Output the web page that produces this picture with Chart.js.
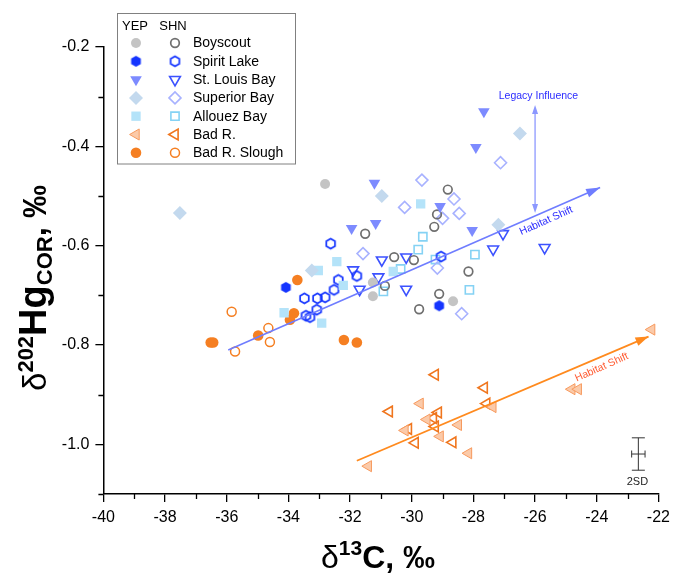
<!DOCTYPE html>
<html>
<head>
<meta charset="utf-8">
<script src="https://cdn.jsdelivr.net/npm/chart.js"></script>
<style>
    html, body { margin: 0; padding: 0; background: #fff; }
</style>
</head>
<body>
<canvas id="chart" width="673" height="577"></canvas>
<script>
"use strict"

// [δ13C, δ202Hg_COR] per site, YEP = filled, SHN = open
const boyscoutYEP = [[-32.81, -0.476], [-31.26, -0.674], [-31.26, -0.702], [-28.66, -0.712]];
const boyscoutSHN = [[-31.51, -0.576], [-30.57, -0.623], [-29.93, -0.629], [-30.87, -0.681], [-29.11, -0.697],
    [-29.76, -0.728], [-28.16, -0.652], [-28.83, -0.487], [-29.18, -0.537], [-29.27, -0.562]];
const spiritYEP = [[-34.08, -0.684], [-29.11, -0.721]];
const spiritSHN = [[-32.63, -0.596], [-32.38, -0.669], [-32.52, -0.689], [-32.81, -0.704], [-33.06, -0.706],
    [-33.48, -0.706], [-33.08, -0.729], [-33.43, -0.741], [-33.30, -0.744], [-31.78, -0.661], [-29.05, -0.622]];
const stLouisYEP = [[-31.21, -0.474], [-31.95, -0.565], [-31.17, -0.555], [-27.66, -0.330], [-27.92, -0.402],
    [-29.08, -0.521], [-28.04, -0.569]];
const stLouisSHN = [[-31.90, -0.649], [-30.97, -0.629], [-30.18, -0.623], [-31.08, -0.663], [-31.69, -0.688],
    [-30.18, -0.688], [-27.04, -0.576], [-27.36, -0.607], [-25.69, -0.604]];
const superiorYEP = [[-37.52, -0.534], [-26.49, -0.374], [-30.97, -0.500], [-27.19, -0.558], [-33.24, -0.650]];
const superiorSHN = [[-27.12, -0.433], [-29.67, -0.468], [-30.23, -0.523], [-28.63, -0.506], [-28.46, -0.535],
    [-29.00, -0.545], [-31.58, -0.616], [-29.17, -0.645], [-28.38, -0.737]];
const allouezYEP = [[-29.71, -0.516], [-32.43, -0.632], [-30.60, -0.652], [-32.22, -0.680], [-34.14, -0.735],
    [-32.92, -0.756], [-33.03, -0.650]];
const allouezSHN = [[-29.64, -0.582], [-29.79, -0.608], [-30.36, -0.647], [-30.92, -0.692], [-29.23, -0.628],
    [-27.95, -0.618], [-28.13, -0.689]];
const badRYEP = [[-31.41, -1.044], [-29.73, -0.918], [-29.51, -0.950], [-30.22, -0.972], [-29.08, -0.984],
    [-28.49, -0.961], [-28.16, -1.018], [-27.37, -0.925], [-22.22, -0.769], [-24.81, -0.889], [-24.60, -0.889]];
const badRSHN = [[-29.24, -0.860], [-27.65, -0.886], [-30.73, -0.934], [-27.57, -0.918], [-29.14, -0.936],
    [-29.30, -0.947], [-30.11, -0.969], [-29.24, -0.964], [-29.89, -0.997], [-28.67, -0.996]];
const sloughYEP = [[-33.71, -0.669], [-33.82, -0.736], [-33.95, -0.749], [-34.98, -0.781], [-36.52, -0.795],
    [-36.44, -0.795], [-32.20, -0.790], [-31.78, -0.795]];
const sloughSHN = [[-35.84, -0.733], [-34.65, -0.766], [-34.60, -0.794], [-35.73, -0.813]];

const siteNames = ["Boyscout", "Spirit Lake", "St. Louis Bay", "Superior Bay", "Allouez Bay", "Bad R.", "Bad R. Slough"];

// Axis ticks
const xTicks = [-40, -38, -36, -34, -32, -30, -28, -26, -24, -22];
const xMinor = [-39, -37, -35, -33, -31, -29, -27, -25, -23];
const yTicks = [-1.0, -0.8, -0.6, -0.4, -0.2];
const yMinor = [-1.1, -0.9, -0.7, -0.5, -0.3];

// Trend arrows / error bar, in data units
const blueShift = [[-35.95, -0.810], [-23.89, -0.483]];
const orangeShift = [[-31.78, -1.033], [-22.32, -0.783]];
const legacyArrow = [[-26.0, -0.317], [-26.0, -0.534]];
const twoSD = { x: -22.65, y: -1.0195, dx: 0.217, dy: 0.0326 };

const FONT = '"Liberation Sans", Arial, sans-serif';

// Hexagon marker drawn to a small canvas
function HexMarker(fill, stroke, r, lw) {
    const size = 15;
    let c = document.createElement("canvas");
    c.width = size;
    c.height = size;
    let g = c.getContext("2d");
    g.beginPath();
    for (let i = 0; i < 6; i++) {
        let a = Math.PI / 3 * i - Math.PI / 2;
        let px = size / 2 + r * Math.cos(a);
        let py = size / 2 + r * Math.sin(a);
        if (i === 0) g.moveTo(px, py); else g.lineTo(px, py);
    }
    g.closePath();
    if (fill) { g.fillStyle = fill; g.fill(); }
    if (stroke) { g.strokeStyle = stroke; g.lineWidth = lw; g.stroke(); }
    return c;
}

const NONE = "rgba(0,0,0,0)";

const markerStyles = [
    // [YEP, SHN] for each site
    [{ pointStyle: "circle", radius: 5, fill: "#c4c4c4", stroke: "#c4c4c4", width: 0 },
     { pointStyle: "circle", radius: 4.3, fill: NONE, stroke: "#6f6f6f", width: 1.7 }],
    [{ pointStyle: HexMarker("#1434ff", null, 5.6, 0), radius: 5, fill: "#1434ff", stroke: "#1434ff", width: 0 },
     { pointStyle: HexMarker(null, "#1434ff", 5.0, 1.7), radius: 5, fill: NONE, stroke: "#1434ff", width: 0 }],
    [{ pointStyle: "triangle", rotation: 180, radius: 6.7, fill: "#7d8bff", stroke: "#7d8bff", width: 0 },
     { pointStyle: "triangle", rotation: 180, radius: 6.2, fill: NONE, stroke: "#3c52ff", width: 1.6 }],
    [{ pointStyle: "rectRot", radius: 7, fill: "#c3d9ee", stroke: "#c3d9ee", width: 0 },
     { pointStyle: "rectRot", radius: 6, fill: NONE, stroke: "#a8b2ff", width: 1.6 }],
    [{ pointStyle: "rect", radius: 6.6, fill: "#b4e3f9", stroke: "#b4e3f9", width: 0 },
     { pointStyle: "rect", radius: 5.8, fill: NONE, stroke: "#85d2f4", width: 1.6 }],
    [{ pointStyle: "triangle", rotation: 270, radius: 6.4, fill: "#fbcaa9", stroke: "#f79a5e", width: 1 },
     { pointStyle: "triangle", rotation: 270, radius: 6.2, fill: NONE, stroke: "#f0761e", width: 1.6 }],
    [{ pointStyle: "circle", radius: 5.3, fill: "#f57f22", stroke: "#f57f22", width: 0 },
     { pointStyle: "circle", radius: 4.5, fill: NONE, stroke: "#f57f22", width: 1.5 }]
];

const siteData = [
    [boyscoutYEP, boyscoutSHN],
    [spiritYEP, spiritSHN],
    [stLouisYEP, stLouisSHN],
    [superiorYEP, superiorSHN],
    [allouezYEP, allouezSHN],
    [badRYEP, badRSHN],
    [sloughYEP, sloughSHN]
];

function MakeDataset(label, points, st) {
    return {
        label: label,
        data: points.map(p => ({ x: p[0], y: p[1] })),
        pointStyle: st.pointStyle,
        pointRotation: st.rotation || 0,
        pointRadius: st.radius,
        pointHoverRadius: st.radius,
        pointBackgroundColor: st.fill,
        pointBorderColor: st.stroke,
        pointBorderWidth: st.width,
        showLine: false
    };
}

let datasets = [];
for (let k = 0; k < 2; k++) {
    for (let i = 0; i < siteNames.length; i++) {
        datasets.push(MakeDataset(siteNames[i] + (k ? " SHN" : " YEP"), siteData[i][k], markerStyles[i][k]));
    }
}

function ArrowHead(ctx, x0, y0, x1, y1, len, half) {
    let a = Math.atan2(y1 - y0, x1 - x0);
    ctx.beginPath();
    ctx.moveTo(x1, y1);
    ctx.lineTo(x1 - len * Math.cos(a) + half * Math.sin(a), y1 - len * Math.sin(a) - half * Math.cos(a));
    ctx.lineTo(x1 - len * Math.cos(a) - half * Math.sin(a), y1 - len * Math.sin(a) + half * Math.cos(a));
    ctx.closePath();
    ctx.fill();
}

function RotText(ctx, text, x, y, deg, font, color) {
    ctx.save();
    ctx.translate(x, y);
    ctx.rotate(deg * Math.PI / 180);
    ctx.font = font;
    ctx.fillStyle = color;
    ctx.textAlign = "center";
    ctx.textBaseline = "middle";
    ctx.fillText(text, 0, 0);
    ctx.restore();
}

const minorTicks = {
    id: "minorTicks",
    afterDraw(chart) {
        const { ctx, chartArea: area, scales: { x, y } } = chart;
        ctx.save();
        ctx.strokeStyle = "#000";
        ctx.lineWidth = 1.3;
        ctx.beginPath();
        xMinor.forEach(v => {
            let px = Math.round(x.getPixelForValue(v)) + 0.5;
            ctx.moveTo(px, area.bottom);
            ctx.lineTo(px, area.bottom + 5);
        });
        yMinor.forEach(v => {
            let py = Math.round(y.getPixelForValue(v)) + 0.5;
            ctx.moveTo(area.left, py);
            ctx.lineTo(area.left - 5, py);
        });
        ctx.stroke();
        ctx.restore();
    }
};

const annotations = {
    id: "annotations",
    afterDatasetsDraw(chart) {
        const { ctx, scales: { x, y } } = chart;
        const P = p => [x.getPixelForValue(p[0]), y.getPixelForValue(p[1])];
        ctx.save();

        // blue habitat shift
        let b0 = P(blueShift[0]), b1 = P(blueShift[1]);
        ctx.strokeStyle = "#6f7dff";
        ctx.fillStyle = "#6f7dff";
        ctx.lineWidth = 1.6;
        ctx.beginPath();
        ctx.moveTo(b0[0], b0[1]);
        ctx.lineTo(b1[0], b1[1]);
        ctx.stroke();
        ArrowHead(ctx, b0[0], b0[1], b1[0], b1[1], 14, 4.5);

        // legacy influence double arrow
        let l0 = P(legacyArrow[0]), l1 = P(legacyArrow[1]);
        ctx.strokeStyle = "#8c98ff";
        ctx.fillStyle = "#8c98ff";
        ctx.lineWidth = 1.3;
        ctx.beginPath();
        ctx.moveTo(l0[0], l0[1] + 6);
        ctx.lineTo(l1[0], l1[1] - 6);
        ctx.stroke();
        ArrowHead(ctx, l1[0], l1[1], l0[0], l0[1], 9, 3);
        ArrowHead(ctx, l0[0], l0[1], l1[0], l1[1], 9, 3);

        // orange habitat shift
        let o0 = P(orangeShift[0]), o1 = P(orangeShift[1]);
        ctx.strokeStyle = "#ff8a1e";
        ctx.fillStyle = "#ff8a1e";
        ctx.lineWidth = 1.8;
        ctx.beginPath();
        ctx.moveTo(o0[0], o0[1]);
        ctx.lineTo(o1[0], o1[1]);
        ctx.stroke();
        ArrowHead(ctx, o0[0], o0[1], o1[0], o1[1], 13, 4.5);

        // labels
        let t = P([-25.89, -0.299]);
        RotText(ctx, "Legacy Influence", t[0], t[1], 0, "10.5px " + FONT, "#2b2bff");
        t = P([-25.64, -0.550]);
        RotText(ctx, "Habitat Shift", t[0], t[1], -24, "10.5px " + FONT, "#2b2bff");
        t = P([-23.84, -0.845]);
        RotText(ctx, "Habitat Shift", t[0], t[1], -24, "10.5px " + FONT, "#ff5c33");

        // 2SD error bar
        let c = P([twoSD.x, twoSD.y]);
        let top = y.getPixelForValue(twoSD.y + twoSD.dy);
        let bot = y.getPixelForValue(twoSD.y - twoSD.dy);
        let lft = x.getPixelForValue(twoSD.x - twoSD.dx);
        let rgt = x.getPixelForValue(twoSD.x + twoSD.dx);
        ctx.strokeStyle = "#333";
        ctx.lineWidth = 1;
        ctx.beginPath();
        ctx.moveTo(c[0], top); ctx.lineTo(c[0], bot);
        ctx.moveTo(c[0] - 6.5, top); ctx.lineTo(c[0] + 6.5, top);
        ctx.moveTo(c[0] - 6.5, bot); ctx.lineTo(c[0] + 6.5, bot);
        ctx.moveTo(lft, c[1]); ctx.lineTo(rgt, c[1]);
        ctx.moveTo(lft, c[1] - 3.5); ctx.lineTo(lft, c[1] + 3.5);
        ctx.moveTo(rgt, c[1] - 3.5); ctx.lineTo(rgt, c[1] + 3.5);
        ctx.stroke();
        t = P([-22.68, -1.075]);
        RotText(ctx, "2SD", t[0], t[1], 0, "11px " + FONT, "#222");

        ctx.restore();
    }
};

function DrawMarker(ctx, st, x, y) {
    ctx.save();
    ctx.fillStyle = st.fill;
    ctx.strokeStyle = st.stroke;
    ctx.lineWidth = st.width;
    Chart.helpers.drawPoint(ctx, { pointStyle: st.pointStyle, rotation: st.rotation || 0, radius: st.radius, borderWidth: st.width }, x, y);
    ctx.restore();
}

const customLegend = {
    id: "customLegend",
    afterDraw(chart) {
        const { ctx } = chart;
        ctx.save();
        ctx.fillStyle = "#fff";
        ctx.fillRect(117, 13.5, 178, 150.5);
        ctx.strokeStyle = "#808080";
        ctx.lineWidth = 1;
        ctx.strokeRect(117.5, 13.5, 178, 150.5);

        ctx.fillStyle = "#000";
        ctx.font = "13px " + FONT;
        ctx.textBaseline = "middle";
        ctx.textAlign = "center";
        ctx.fillText("YEP", 135, 26);
        ctx.fillText("SHN", 173, 26);

        ctx.textAlign = "left";
        ctx.font = "14px " + FONT;
        for (let i = 0; i < siteNames.length; i++) {
            let ry = 43 + i * 18.3;
            DrawMarker(ctx, markerStyles[i][0], 136, ry);
            DrawMarker(ctx, markerStyles[i][1], 175, ry);
            ctx.fillStyle = "#000";
            ctx.fillText(siteNames[i], 193, ry + 0.5);
        }
        ctx.restore();
    }
};

// Title made of runs: [text, font, baseline shift]
function DrawRuns(ctx, runs, cx, cy) {
    let total = 0;
    runs.forEach(r => { ctx.font = r[1]; total += ctx.measureText(r[0]).width; });
    let px = cx - total / 2;
    ctx.textAlign = "left";
    ctx.textBaseline = "alphabetic";
    runs.forEach(r => {
        ctx.font = r[1];
        ctx.fillText(r[0], px, cy + r[2]);
        px += ctx.measureText(r[0]).width;
    });
}

const axisTitles = {
    id: "axisTitles",
    afterDraw(chart) {
        const { ctx } = chart;
        ctx.save();
        ctx.fillStyle = "#000";
        DrawRuns(ctx, [
            ["\u03B4", "32px " + FONT, 0],
            ["13", "bold 21px " + FONT, -13],
            ["C, \u2030", "bold 32px " + FONT, 0]
        ], 378, 568);

        ctx.translate(46, 288);
        ctx.rotate(-Math.PI / 2);
        DrawRuns(ctx, [
            ["\u03B4", "33px " + FONT, 0],
            ["202", "bold 22px " + FONT, -13],
            ["Hg", "bold 38px " + FONT, 0],
            ["COR", "bold 22px " + FONT, 6],
            [", \u2030", "bold 33px " + FONT, 0]
        ], 0, 0);
        ctx.restore();
    }
};

new Chart(document.getElementById("chart"), {
    type: "scatter",
    data: { datasets: datasets },
    options: {
        responsive: false,
        animation: false,
        devicePixelRatio: 1,
        layout: { padding: { left: 0, right: 14.6, top: 47, bottom: 0 } },
        plugins: {
            legend: { display: false },
            tooltip: { enabled: false }
        },
        scales: {
            x: {
                type: "linear",
                min: -40,
                max: -22,
                afterFit: s => { s.height = 83; s.paddingLeft = 0; s.paddingRight = 0; },
                afterBuildTicks: s => { s.ticks = xTicks.map(v => ({ value: v })); },
                grid: { drawOnChartArea: false, drawTicks: true, tickLength: 8, color: "#000", lineWidth: 1.3 },
                border: { display: true, color: "#000", width: 1.5 },
                ticks: { color: "#000", font: { family: FONT, size: 16 }, padding: 6, maxRotation: 0, autoSkip: false,
                    callback: v => String(v) }
            },
            y: {
                type: "linear",
                min: -1.1,
                max: -0.2,
                afterFit: s => { s.width = 103.4; s.paddingTop = 0; s.paddingBottom = 0; },
                afterBuildTicks: s => { s.ticks = yTicks.map(v => ({ value: v })); },
                grid: { drawOnChartArea: false, drawTicks: true, tickLength: 8, color: "#000", lineWidth: 1.3 },
                border: { display: true, color: "#000", width: 1.5 },
                ticks: { color: "#000", font: { family: FONT, size: 16 }, padding: 6, autoSkip: false,
                    callback: v => v.toFixed(1) }
            }
        }
    },
    plugins: [minorTicks, annotations, customLegend, axisTitles]
});
</script>
</body>
</html>
